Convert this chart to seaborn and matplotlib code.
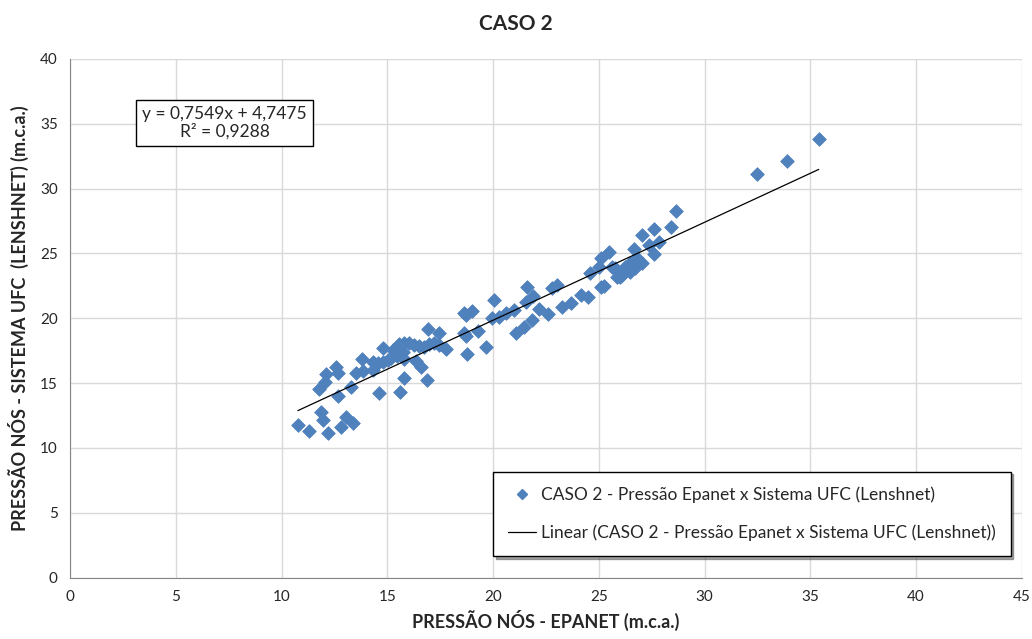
import numpy as np
import pandas as pd
import seaborn as sns
import matplotlib
matplotlib.use("Agg")
import matplotlib.pyplot as plt
from matplotlib.lines import Line2D

# Epanet pressure (x) vs Sistema UFC / Lenshnet pressure (y)
epanet = [
    10.77, 11.29, 11.87, 11.95, 12.19, 12.82, 13.05, 13.36,
    11.79, 12.03, 12.10, 12.58, 12.66, 12.66, 13.29, 13.52, 13.80, 13.85,
    14.31, 14.31, 14.54, 14.78, 15.01, 15.17, 14.59, 14.81, 15.28, 15.57,
    15.80, 16.04, 16.27, 16.51, 16.75, 16.98, 17.22, 17.42, 15.72, 16.90,
    17.42, 17.77, 15.80, 16.35, 16.59, 15.80, 16.86, 15.61, 15.45,
    18.63, 18.71, 19.02, 18.63, 18.70, 18.79, 19.31, 19.65, 20.05, 19.97,
    20.28, 20.60, 20.99, 21.07, 21.46, 21.62, 21.54, 21.89, 21.83, 22.17,
    22.61, 22.80, 23.03, 23.27, 23.70, 24.18, 24.48, 24.60, 25.12, 25.24,
    25.11, 25.00, 25.47, 25.79, 25.63, 26.02, 25.87, 26.10, 26.23, 26.49,
    26.49, 26.73, 26.81, 27.04, 26.65, 27.04, 27.36, 27.59, 27.59, 27.83,
    28.41, 28.65, 32.50, 33.90, 35.40,
]
lenshnet = [
    11.77, 11.33, 12.75, 12.16, 11.18, 11.64, 12.37, 11.95,
    14.55, 15.11, 15.68, 16.27, 15.81, 14.01, 14.73, 15.76, 16.86, 15.90,
    16.65, 16.01, 16.53, 16.65, 16.78, 16.91, 14.22, 17.69, 17.56, 18.02,
    18.12, 18.07, 17.94, 17.86, 17.81, 18.02, 18.07, 17.94, 17.43, 19.15,
    18.84, 17.61, 16.84, 16.73, 16.27, 15.37, 15.24, 14.34, 17.10,
    20.39, 20.25, 20.56, 18.84, 18.66, 17.25, 19.02, 17.81, 21.41, 20.00,
    20.12, 20.38, 20.64, 18.84, 19.35, 22.44, 21.28, 21.72, 19.87, 20.69,
    20.31, 22.31, 22.57, 20.85, 21.16, 21.80, 21.67, 23.47, 22.39, 22.51,
    24.63, 23.98, 25.09, 23.86, 23.98, 23.21, 23.21, 23.34, 23.98, 24.24,
    23.59, 23.90, 24.63, 24.24, 25.34, 26.42, 25.65, 26.88, 24.93, 25.91,
    27.06, 28.30, 31.10, 32.10, 33.80,
]

# trend line reported on the chart
slope = 0.7549
intercept = 4.7475
r2 = 0.9288

series_name = "CASO 2 - Pressão Epanet x Sistema UFC (Lenshnet)"
x_ticks = [0, 5, 10, 15, 20, 25, 30, 35, 40, 45]
y_ticks = [0, 5, 10, 15, 20, 25, 30, 35, 40]

df = pd.DataFrame({"epanet": epanet, "lenshnet": lenshnet})

sns.set_style("white")
plt.rcParams["font.family"] = ["Lato", "DejaVu Sans"]

fig = plt.figure(figsize=(10.32, 6.39), dpi=100)
ax = fig.add_axes([0.068, 0.096, 0.922, 0.812])

sns.scatterplot(data=df, x="epanet", y="lenshnet", ax=ax, marker="D",
                s=48, color="#4F81BD", edgecolor="#4F81BD", linewidth=0.6,
                zorder=3, legend=False)

xs = np.array([df["epanet"].min(), df["epanet"].max()])
ax.plot(xs, slope * xs + intercept, color="black", lw=0.9, zorder=4)

ax.set_xlim(0, 45)
ax.set_ylim(0, 40)
ax.set_xticks(x_ticks)
ax.set_yticks(y_ticks)
ax.grid(True, color="#D9D9D9", lw=1.0, zorder=0)
ax.set_axisbelow(True)
for side in ("top", "right"):
    ax.spines[side].set_visible(False)
for side in ("left", "bottom"):
    ax.spines[side].set_color("#868686")
ax.tick_params(axis="both", direction="out", length=5, width=1,
               color="#868686", labelsize=11, labelcolor="#262626", pad=4)

ax.set_xlabel("PRESSÃO NÓS - EPANET (m.c.a.)", fontsize=13,
              fontweight="bold", labelpad=4)
ax.set_ylabel("PRESSÃO NÓS - SISTEMA UFC  (LENSHNET) (m.c.a.)", fontsize=13,
              fontweight="bold", labelpad=8)
fig.suptitle("CASO 2", x=0.5, y=0.978, fontsize=15, fontweight="bold")

ax.text(7.3, 35.05, f"y = {slope:.4f}x + {intercept:.4f}\nR² = {r2:.4f}".replace(".", ","),
        ha="center", va="center", fontsize=12.5, linespacing=1.1, zorder=6,
        bbox=dict(boxstyle="square,pad=0.35", fc="white", ec="black", lw=1))

handles = [
    Line2D([], [], marker="D", color="#4F81BD", ls="none", markersize=5.5),
    Line2D([], [], color="black", lw=0.9),
]
leg = ax.legend(handles, [series_name, f"Linear ({series_name})"],
                loc="lower right", bbox_to_anchor=(0.992, 0.035),
                fontsize=12.5, frameon=True, fancybox=False, shadow=True,
                edgecolor="black", framealpha=1, borderpad=0.85,
                labelspacing=1.25, handlelength=1.6, handletextpad=0.3,
                borderaxespad=0.2)
leg.get_frame().set_linewidth(1)

fig.savefig("out.png", dpi=100)
